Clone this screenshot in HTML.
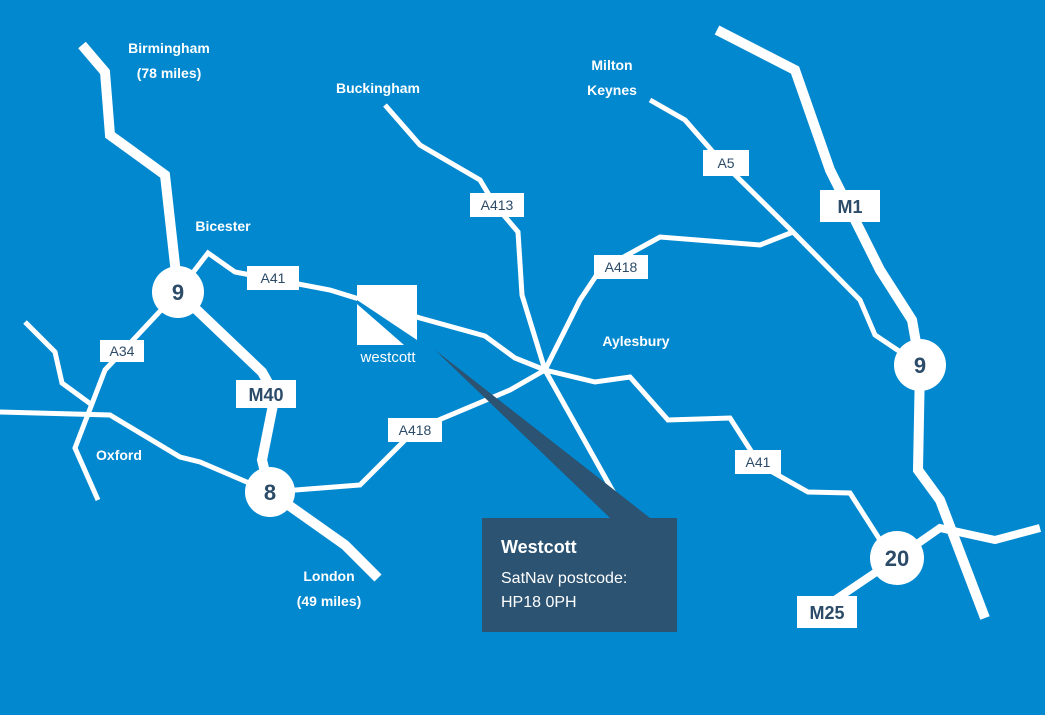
<!DOCTYPE html>
<html><head><meta charset="utf-8"><style>
html,body{margin:0;padding:0;width:1045px;height:715px;overflow:hidden;background:#0288cf}
text{font-family:"Liberation Sans",sans-serif;font-weight:bold}
</style></head><body>
<svg width="1045" height="715" viewBox="0 0 1045 715" xmlns="http://www.w3.org/2000/svg">
<rect width="1045" height="715" fill="#0288cf"/>
<g fill="none" stroke="#fff" stroke-linejoin="miter" stroke-linecap="butt">
<g stroke-width="5">
<polyline points="178,292 208,253 235,272 330,290 420,318 485,336 515,358 545,370 595,382 630,377 668,420 730,418 760,465 808,492 850,493 880,540 897,558"/>
<polyline points="178,292 105,370 75,448 98,500"/>
<polyline points="25,322 55,352 62,383 92,405"/>
<polyline points="0,412 110,415 180,457 200,462 270,492"/>
<polyline points="270,492 360,485 415,430 510,390 545,370 580,300 600,270 660,237 760,245 793,232"/>
<polyline points="385,105 420,145 480,180 495,205 518,232 522,295 545,370 615,495"/>
<polyline points="650,100 685,120 720,160 793,232 860,300 875,335 920,365"/>
</g>
<polyline stroke-width="10" points="82,45 105,72 110,135 165,175 178,292"/>
<polyline stroke-width="10" points="178,292 262,372 275,395 262,460 270,492 345,545 378,578"/>
<polyline stroke-width="10" points="717,30 795,70 830,170 850,210 880,270 912,320 920,365 918,470 940,500 985,618"/>
<polyline stroke-width="8" points="820,610 897,558 940,528 995,540 1040,528"/>
</g>
<g fill="#fff"><circle cx="178" cy="292" r="26"/><circle cx="270" cy="492" r="25"/><circle cx="920" cy="365" r="26"/><circle cx="897" cy="558" r="27"/></g>
<g fill="#2c4b68" font-size="22" text-anchor="middle">
<text x="178" y="300">9</text><text x="270" y="500">8</text><text x="920" y="373">9</text><text x="897" y="566">20</text>
</g>
<g fill="#fff">
<rect x="247" y="266" width="52" height="24"/><rect x="100" y="340" width="44" height="22"/>
<rect x="236" y="380" width="60" height="28"/><rect x="388" y="418" width="54" height="24"/>
<rect x="470" y="193" width="54" height="24"/><rect x="703" y="150" width="46" height="26"/>
<rect x="594" y="255" width="54" height="24"/><rect x="820" y="190" width="60" height="32"/>
<rect x="735" y="450" width="46" height="24"/><rect x="797" y="596" width="60" height="32"/>
</g>
<g fill="#2c4b68" font-size="14" text-anchor="middle">
<text x="273" y="283" style="font-weight:normal">A41</text>
<text x="122" y="356" style="font-weight:normal">A34</text>
<text x="415" y="435" style="font-weight:normal">A418</text>
<text x="497" y="210" style="font-weight:normal">A413</text>
<text x="726" y="168" style="font-weight:normal">A5</text>
<text x="621" y="272" style="font-weight:normal">A418</text>
<text x="758" y="467" style="font-weight:normal">A41</text>
</g>
<g fill="#2c4b68" font-size="18" text-anchor="middle">
<text x="266" y="401">M40</text><text x="850" y="213">M1</text><text x="827" y="619">M25</text>
</g>
<g fill="#fff" font-size="14" text-anchor="middle">
<text x="169" y="53">Birmingham</text><text x="169" y="78">(78 miles)</text>
<text x="378" y="93">Buckingham</text>
<text x="612" y="70">Milton</text><text x="612" y="95">Keynes</text>
<text x="223" y="231">Bicester</text>
<text x="636" y="346">Aylesbury</text>
<text x="119" y="460">Oxford</text>
<text x="329" y="581">London</text><text x="329" y="606">(49 miles)</text>
</g>
<rect x="357" y="285" width="60" height="60" fill="#fff"/>
<polygon points="357,300 357,304 404,345 417,345 417,340" fill="#0288cf"/>
<text x="388" y="362" fill="#fff" font-size="15" text-anchor="middle" style="font-weight:normal">westcott</text>
<polygon points="435,350 610,518 650,518" fill="#2c5372"/>
<rect x="482" y="518" width="195" height="114" fill="#2c5372"/>
<text x="501" y="553" fill="#fff" font-size="18">Westcott</text>
<text x="501" y="583" fill="#fff" font-size="16" style="font-weight:normal">SatNav postcode:</text>
<text x="501" y="607" fill="#fff" font-size="16" style="font-weight:normal">HP18 0PH</text>
</svg>
</body></html>
